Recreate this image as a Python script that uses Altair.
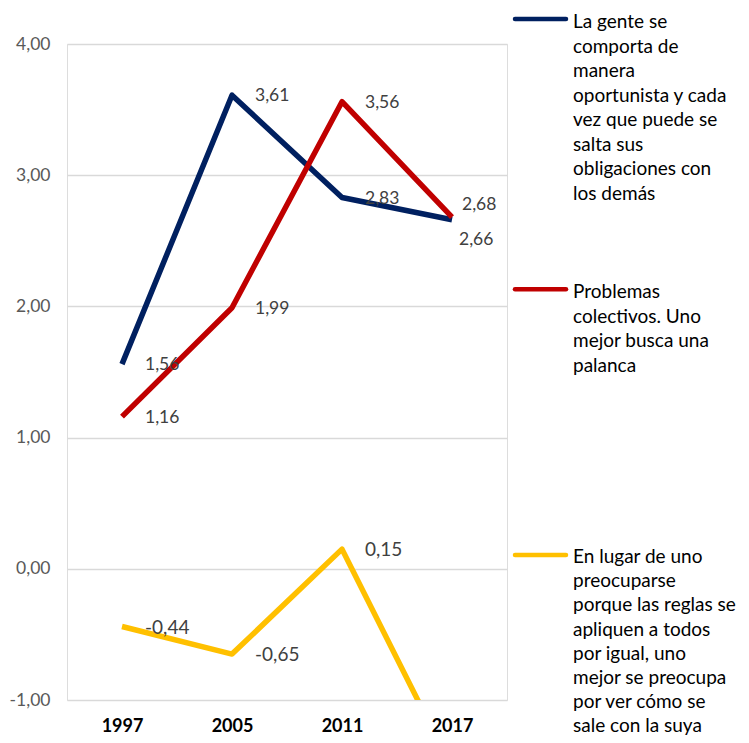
import altair as alt
import pandas as pd

# ---- data ----
years = ["1997", "2005", "2011", "2017"]
series_names = [
    "La gente se\ncomporta de\nmanera\noportunista y cada\nvez que puede se\nsalta sus\nobligaciones con\nlos demás",
    "Problemas\ncolectivos. Uno\nmejor busca una\npalanca",
    "En lugar de uno\npreocuparse\nporque las reglas se\napliquen a todos\npor igual, uno\nmejor se preocupa\npor ver cómo se\nsale con la suya",
]
values_gente = [1.56, 3.61, 2.83, 2.66]
values_problemas = [1.16, 1.99, 3.56, 2.68]
values_reglas = [-0.44, -0.65, 0.15, -1.52]
series_colors = ["#002060", "#c00000", "#ffc000"]
y_ticks = [-1, 0, 1, 2, 3, 4]

rows = []
for name, vals in zip(series_names, [values_gente, values_problemas, values_reglas]):
    for yr, v in zip(years, vals):
        rows.append({"serie": name, "year": yr, "value": v})
df = pd.DataFrame(rows)

FONT = "Lato"
NUMFMT = "replace(replace(format({v}, '.2f'), '.', ','), '\u2212', '-')"
color_scale = alt.Scale(domain=series_names, range=series_colors)

x_enc = alt.X(
    "year:N",
    sort=years,
    scale=alt.Scale(paddingInner=0, paddingOuter=0),
    axis=alt.Axis(
        title=None, labelAngle=0, labelFont=FONT, labelFontSize=18,
        labelFontWeight="bold", labelColor="#000000", labelPadding=17,
        domain=False, ticks=False, grid=False,
    ),
)
y_enc = alt.Y(
    "value:Q",
    scale=alt.Scale(domain=[-1, 4], nice=False, zero=False),
    axis=alt.Axis(
        title=None, values=y_ticks,
        labelExpr=NUMFMT.format(v="datum.value"),
        labelFont=FONT, labelFontSize=17.5, labelColor="#595959",
        labelPadding=17, domain=False, ticks=False,
        grid=True, gridColor="#d9d9d9", gridWidth=1.3,
    ),
)

base = alt.Chart(df).transform_calculate(lab=NUMFMT.format(v="datum.value"))

line_layers = []
for name in series_names:
    line_layers.append(
        base.transform_filter(alt.datum.serie == name)
        .mark_line(strokeWidth=5.5, clip=True, strokeJoin="round", strokeCap="butt")
        .encode(
            x=x_enc, y=y_enc,
            color=alt.Color("serie:N", scale=color_scale, legend=None),
        )
    )

lab_common = dict(align="left", baseline="middle", font=FONT, color="#404040")

labels_main = (
    base.transform_filter(
        (alt.datum.year != "2017") & (alt.datum.serie != series_names[2])
    )
    .mark_text(dx=23, dy=1, fontSize=17.5, **lab_common)
    .encode(x=x_enc, y=y_enc, text="lab:N")
)
labels_yellow = (
    base.transform_filter(
        (alt.datum.year != "2017") & (alt.datum.serie == series_names[2])
        & (alt.datum.value >= -1)
    )
    .mark_text(dx=23, dy=1, fontSize=19, **lab_common)
    .encode(x=x_enc, y=y_enc, text="lab:N")
)
label_2017_navy = (
    base.transform_filter((alt.datum.year == "2017") & (alt.datum.serie == series_names[0]))
    .mark_text(dx=7, dy=20, fontSize=17.5, **lab_common)
    .encode(x=x_enc, y=y_enc, text="lab:N")
)
label_2017_red = (
    base.transform_filter((alt.datum.year == "2017") & (alt.datum.serie == series_names[1]))
    .mark_text(dx=10, dy=-12, fontSize=17.5, **lab_common)
    .encode(x=x_enc, y=y_enc, text="lab:N")
)

# ---- manual legend on the right ----
legend_symbol_y = [-25, 245.3, 511]
legend_text_y = [-15.7, 254.3, 519]
legend_line_h = [24.5, 24.5, 24.2]
legend_layers = []
for name, col, sy, ty, lh in zip(series_names, series_colors, legend_symbol_y,
                                 legend_text_y, legend_line_h):
    ldf = pd.DataFrame({"serie": [name]})
    legend_layers.append(
        alt.Chart(ldf).mark_rule(strokeWidth=4.5, strokeCap="round", color=col).encode(
            x=alt.value(448), x2=alt.value(499), y=alt.value(sy)
        )
    )
    legend_layers.append(
        alt.Chart(ldf).mark_text(
            align="left", baseline="alphabetic", font=FONT, fontSize=19,
            color="#000000", lineBreak="\n", lineHeight=lh,
        ).encode(x=alt.value(506), y=alt.value(ty), text="serie:N")
    )

chart = (
    alt.layer(*line_layers, labels_main, labels_yellow, label_2017_navy,
              label_2017_red, *legend_layers)
    .properties(
        width=440, height=656,
        autosize=alt.AutoSizeParams(type="none"),
        padding={"left": 59, "top": 36, "right": 233, "bottom": 37},
    )
    .configure_view(stroke=None)
    .configure(background="white")
)

chart.save("out.html", embed_options={"renderer": "svg", "actions": False})
